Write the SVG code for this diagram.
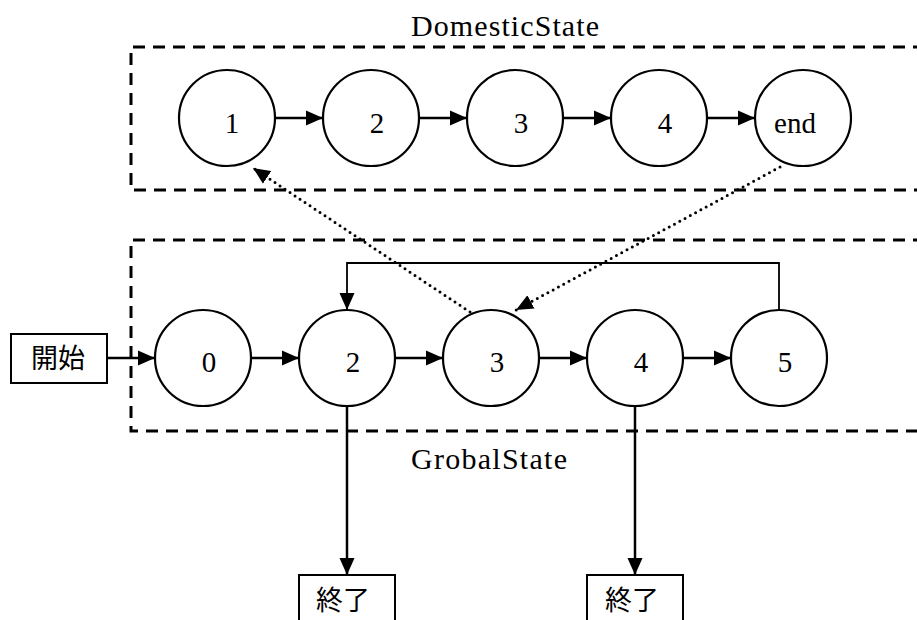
<svg xmlns="http://www.w3.org/2000/svg" width="917" height="620" viewBox="0 0 917 620">
  <style>
    .state { fill: #fff; stroke: #000; stroke-width: 2.2; }
    .box { fill: #fff; stroke: #000; stroke-width: 2; }
    .frame { fill: none; stroke: #000; stroke-width: 3; stroke-dasharray: 12 8; }
    .edge { fill: none; stroke: #000; stroke-width: 2.5; marker-end: url(#arrow); }
    .loop { fill: none; stroke: #000; stroke-width: 1.8; marker-end: url(#arrow); }
    .jump { fill: none; stroke: #000; stroke-width: 3; stroke-linecap: round; stroke-dasharray: 0 6; marker-end: url(#arrow); }
    .label { font-family: "Liberation Serif", "Noto Sans CJK JP", serif; font-size: 29px; fill: #000; text-anchor: middle; }
    .title { font-family: "Liberation Serif", serif; font-size: 30px; fill: #000; text-anchor: middle; }
    .jp { font-family: "Noto Sans CJK JP", sans-serif; font-size: 27px; fill: #000; text-anchor: middle; }
  </style>
  <defs>
    <marker id="arrow" markerUnits="userSpaceOnUse" markerWidth="18" markerHeight="16" viewBox="0 0 18 16" refX="17" refY="8" orient="auto">
      <path d="M0,0.5 L17,8 L0,15.5 Z" fill="#000"/>
    </marker>
  </defs>

  <rect width="917" height="620" fill="#fff"/>

  <!-- group frames -->
  <g id="domestic-frame">
    <path class="frame" d="M925 47 H131 V190 H925"/>
    <text class="title" x="505" y="36" textLength="188" lengthAdjust="spacing">DomesticState</text>
  </g>
  <g id="global-frame">
    <path class="frame" d="M925 240 H131 V431 H925"/>
    <text class="title" x="489" y="469" textLength="156" lengthAdjust="spacing">GrobalState</text>
  </g>

  <!-- connectors -->
  <g id="connectors">
    <path class="edge" d="M275 118 H323"/>
    <path class="edge" d="M419 118 H467"/>
    <path class="edge" d="M563 118 H611"/>
    <path class="edge" d="M707 118 H755"/>

    <path class="edge" d="M107 358 H155"/>
    <path class="edge" d="M251 358 H299"/>
    <path class="edge" d="M395 358 H443"/>
    <path class="edge" d="M539 358 H587"/>
    <path class="edge" d="M683 358 H731"/>

    <path class="loop" d="M779 310 V263 H347 V310"/>

    <path class="edge" d="M347 406 V575"/>
    <path class="edge" d="M635 406 V575"/>

    <path class="jump" d="M470 312 L253 168"/>
    <path class="jump" d="M780 167 L516 310"/>
  </g>

  <!-- domestic states -->
  <g id="d1"><circle class="state" cx="227" cy="118" r="48"/><text class="label" x="232" y="133">1</text></g>
  <g id="d2"><circle class="state" cx="371" cy="118" r="48"/><text class="label" x="377" y="133">2</text></g>
  <g id="d3"><circle class="state" cx="515" cy="118" r="48"/><text class="label" x="521" y="133">3</text></g>
  <g id="d4"><circle class="state" cx="659" cy="118" r="48"/><text class="label" x="665" y="133">4</text></g>
  <g id="dend"><circle class="state" cx="803" cy="118" r="48"/><text class="label" x="795" y="133">end</text></g>

  <!-- global states -->
  <g id="g0"><circle class="state" cx="203" cy="358" r="48"/><text class="label" x="209" y="372">0</text></g>
  <g id="g2"><circle class="state" cx="347" cy="358" r="48"/><text class="label" x="353" y="372">2</text></g>
  <g id="g3"><circle class="state" cx="491" cy="358" r="48"/><text class="label" x="497" y="372">3</text></g>
  <g id="g4"><circle class="state" cx="635" cy="358" r="48"/><text class="label" x="641" y="372">4</text></g>
  <g id="g5"><circle class="state" cx="779" cy="358" r="48"/><text class="label" x="785" y="372">5</text></g>

  <!-- start and end boxes -->
  <g id="start"><rect class="box" x="11" y="334" width="96" height="49"/><text class="jp" x="58" y="368">開始</text></g>
  <g id="end1"><rect class="box" x="299" y="575" width="96" height="60"/><text class="jp" x="343" y="610">終了</text></g>
  <g id="end2"><rect class="box" x="587" y="575" width="96" height="60"/><text class="jp" x="632" y="610">終了</text></g>
</svg>
